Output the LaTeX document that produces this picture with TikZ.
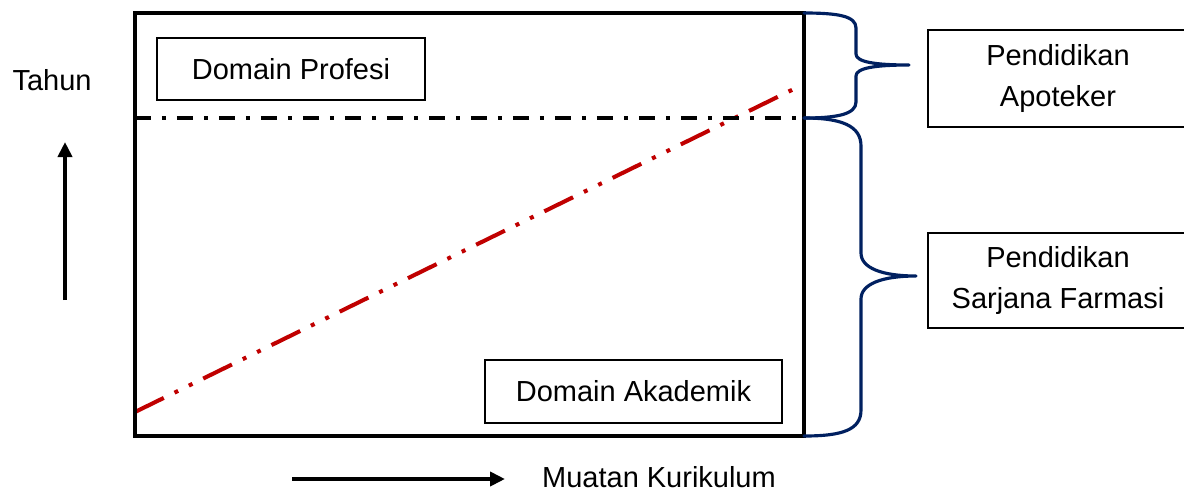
\documentclass[tikz,border=0pt]{standalone}
\usepackage{fontspec}
\setmainfont{Liberation Sans}
\usetikzlibrary{arrows.meta}
\definecolor{navy}{RGB}{0,32,96}
\definecolor{dred}{RGB}{192,0,0}
\begin{document}
\begin{tikzpicture}[x=0.02cm,y=-0.02cm,
  lbl/.style={font=\fontsize{16.5}{23.2}\selectfont, inner sep=0pt, align=center},
  tbox/.style={lbl, draw, line width=1.1pt},
  frameline/.style={line width=2.3pt},
  axisarrow/.style={line width=2.3pt, -{Triangle[length=0.3cm,width=0.28cm]}},
  bracestyle/.style={draw=navy, line width=1.8pt, line cap=round, line join=round},
  sepline/.style={line width=2.3pt, dash pattern=on 0.32cm off 0.22cm on 0.08cm off 0.22cm},
  redline/.style={draw=dred, line width=2.3pt, dash pattern=on 0.64cm off 0.24cm on 0.08cm off 0.24cm on 0.08cm off 0.24cm}]
\useasboundingbox (0,0) rectangle (1184,491);

% frame coordinates
\coordinate (tl) at (135,13);
\coordinate (tr) at (804,13);
\coordinate (bl) at (135,436);
\coordinate (br) at (804,436);
\coordinate (ml) at (135,118);
\coordinate (mr) at (804,118);
\coordinate (rs) at (135,412);
\coordinate (re) at (804,84);
\coordinate (tip1) at (909,65);
\coordinate (tip2) at (916,276);

% red diagonal
\draw[redline] (rs) -- (re);
% separator
\draw[sepline] (ml) -- (mr);
% main frame
\draw[frameline] (tl) rectangle (br);

% boxes
\node[tbox, minimum width=5.36cm, minimum height=1.24cm] (prof) at (291,69) {Domain Profesi};
\node[tbox, minimum width=5.94cm, minimum height=1.26cm] (akad) at (633.5,391.5) {Domain Akademik};
\node[tbox, minimum width=5.2cm, minimum height=1.94cm] (apo) at (1058,78.5) {Pendidikan\\Apoteker};
\node[tbox, minimum width=5.2cm, minimum height=1.9cm] (sar) at (1058,280.5) {Pendidikan\\Sarjana Farmasi};

% braces
\draw[bracestyle] (tr) .. controls (838,13) and (856,16) .. (856,28)
  -- (856,54) .. controls (856,62) and (875,65) .. (tip1)
  .. controls (875,65) and (856,68) .. (856,76)
  -- (856,102) .. controls (856,114) and (838,118) .. (mr);
\draw[bracestyle] (mr) .. controls (842,118) and (861,126) .. (861,146)
  -- (861,253) .. controls (861,268) and (882,276) .. (tip2)
  .. controls (882,276) and (861,284) .. (861,299)
  -- (861,410) .. controls (861,430) and (842,436) .. (br);

% axes
\coordinate (va1) at (65,300);
\coordinate (va2) at (65,142);
\coordinate (ha1) at (292,479);
\coordinate (ha2) at (505,479);
\draw[axisarrow] (va1) -- (va2);
\draw[axisarrow] (ha1) -- (ha2);

\node[lbl] (tahun) at (52,80) {Tahun};
\node[lbl] (muatan) at (659,477) {Muatan Kurikulum};
\end{tikzpicture}
\end{document}
